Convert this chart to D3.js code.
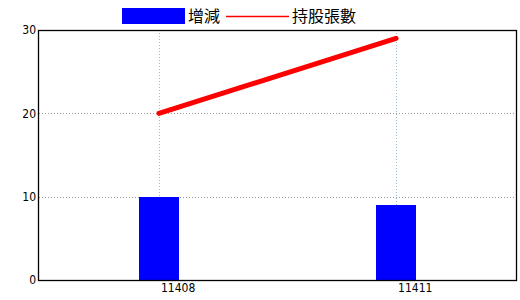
<!DOCTYPE html>
<html>
<head>
<meta charset="utf-8">
<script src="https://cdn.jsdelivr.net/npm/d3@7"></script>
<style>
  body { margin: 0; background: #fff; }
  svg { display: block; }
  .tick-label { font-family: "Liberation Sans Narrow", "DejaVu Sans Condensed", "Liberation Sans", sans-serif; font-size: 12px; fill: #000; }
  .legend-label { font-family: "Noto Sans CJK TC", "Noto Sans", sans-serif; font-size: 16px; fill: #000; }
</style>
</head>
<body>
<div id="chart"></div>
<script>
// data
const periods = ["11408", "11411"];
const changeValues = [10, 9];      // 增減
const holdingValues = [20, 29];    // 持股張數
const yTicks = [0, 10, 20, 30];

const width = 520, height = 300;
const margin = { top: 30, right: 4, bottom: 20, left: 39 };

const svg = d3.select("#chart").append("svg")
  .attr("width", width)
  .attr("height", height);

const x = d3.scalePoint()
  .domain(periods)
  .range([margin.left, width - margin.right])
  .padding(0.506);

const y = d3.scaleLinear()
  .domain([0, 30])
  .range([height - margin.bottom, margin.top]);

// grid
svg.append("g")
  .selectAll("line")
  .data(yTicks.filter(d => d > 0 && d < 30))
  .join("line")
  .attr("x1", margin.left)
  .attr("x2", width - margin.right)
  .attr("y1", d => Math.round(y(d)) + 0.5)
  .attr("y2", d => Math.round(y(d)) + 0.5)
  .attr("stroke", "#999")
  .attr("stroke-dasharray", "1,2");

svg.append("g")
  .selectAll("line")
  .data(periods)
  .join("line")
  .attr("x1", d => Math.round(x(d)) + 0.5)
  .attr("x2", d => Math.round(x(d)) + 0.5)
  .attr("y1", margin.top)
  .attr("y2", height - margin.bottom)
  .attr("stroke", "#9bb8cc")
  .attr("stroke-dasharray", "1,2");

// bars
const barWidth = 40;
svg.append("g")
  .selectAll("rect")
  .data(periods)
  .join("rect")
  .attr("x", d => Math.round(x(d) - barWidth / 2))
  .attr("y", (d, i) => y(changeValues[i]))
  .attr("width", barWidth)
  .attr("height", (d, i) => y(0) - y(changeValues[i]))
  .attr("fill", "#0000ff")
  .attr("shape-rendering", "crispEdges");

// line
const line = d3.line()
  .x((d, i) => x(periods[i]))
  .y(d => y(d));

svg.append("path")
  .datum(holdingValues)
  .attr("d", line)
  .attr("fill", "none")
  .attr("stroke", "#ff0000")
  .attr("stroke-width", 5)
  .attr("stroke-linecap", "round");

// frame
svg.append("rect")
  .attr("x", margin.left - 0.5)
  .attr("y", margin.top + 0.5)
  .attr("width", width - margin.right - margin.left + 1)
  .attr("height", height - margin.bottom - margin.top)
  .attr("fill", "none")
  .attr("stroke", "#000")
  .attr("stroke-width", 1.3);

// y labels
svg.append("g")
  .selectAll("text")
  .data(yTicks)
  .join("text")
  .attr("class", "tick-label")
  .attr("x", margin.left - 3)
  .attr("y", d => y(d))
  .attr("dy", "0.35em")
  .attr("text-anchor", "end")
  .text(d => d);

// x labels
svg.append("g")
  .selectAll("text")
  .data(periods)
  .join("text")
  .attr("class", "tick-label")
  .attr("x", d => x(d) + 2)
  .attr("y", height - margin.bottom + 12)
  .text(d => d);

// legend
const legend = svg.append("g");
legend.append("rect")
  .attr("x", 122).attr("y", 8)
  .attr("width", 63).attr("height", 16)
  .attr("fill", "#0000ff");
legend.append("text")
  .attr("class", "legend-label")
  .attr("x", 188).attr("y", 22)
  .text("增減");
legend.append("line")
  .attr("x1", 226).attr("x2", 289)
  .attr("y1", 16.5).attr("y2", 16.5)
  .attr("stroke", "#ff0000")
  .attr("stroke-width", 1.5);
legend.append("text")
  .attr("class", "legend-label")
  .attr("x", 292).attr("y", 22)
  .text("持股張數");
</script>
</body>
</html>
